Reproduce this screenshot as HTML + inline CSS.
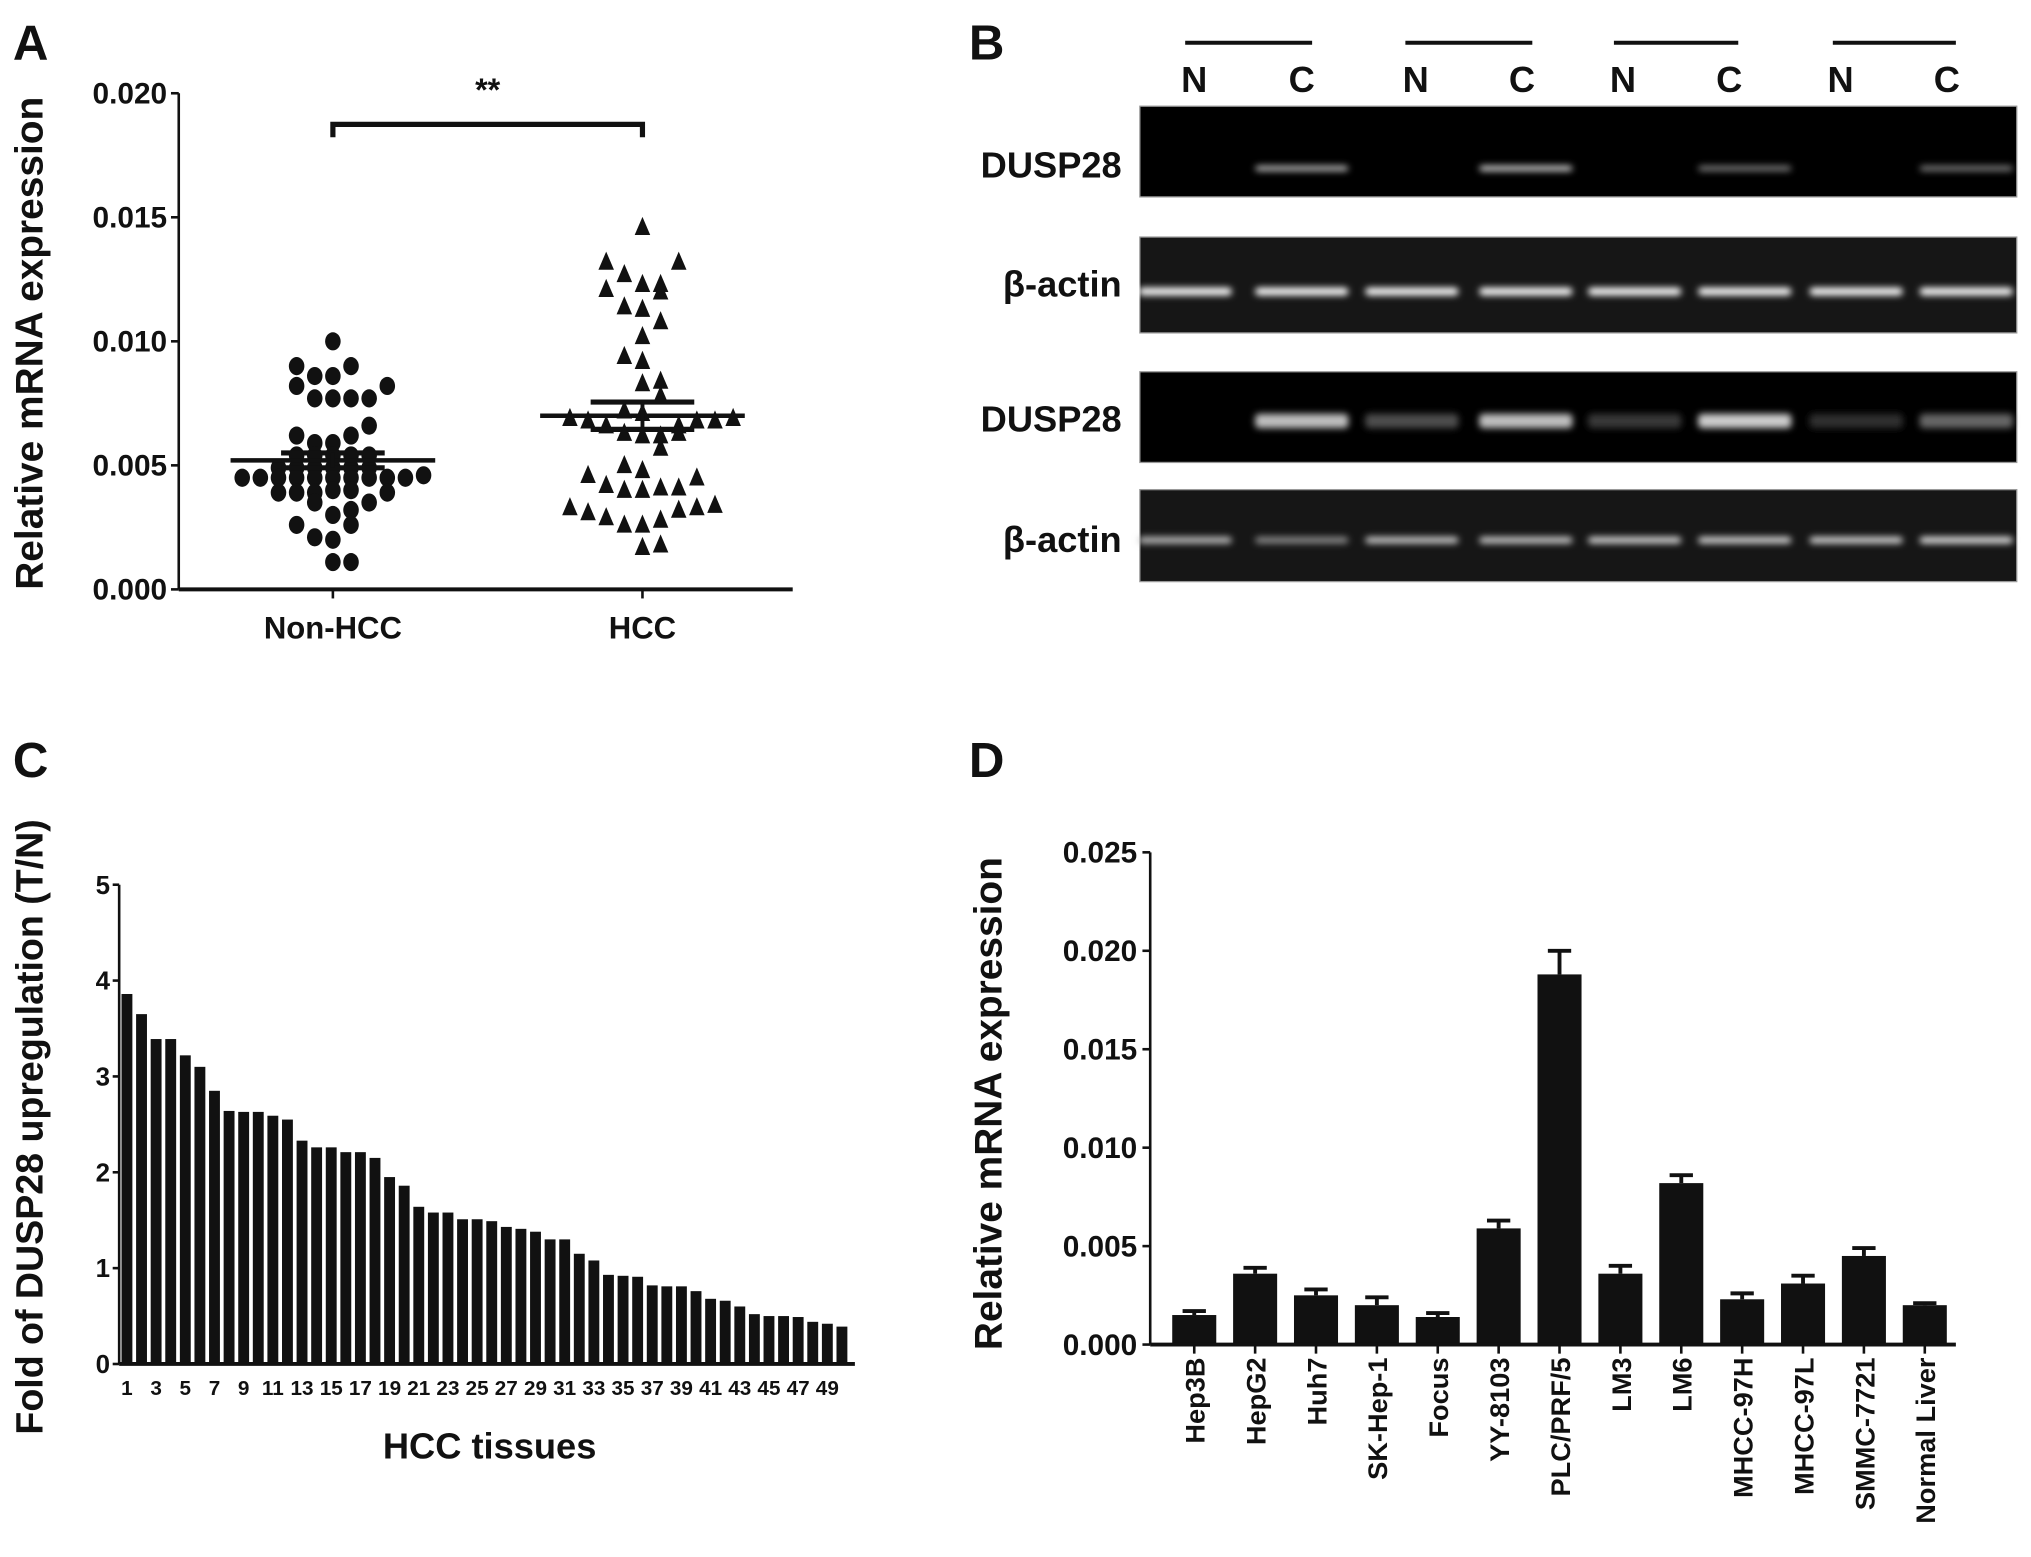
<!DOCTYPE html>
<html><head><meta charset="utf-8"><style>
html,body{margin:0;padding:0;background:#fff}
svg{display:block}
text{font-family:"Liberation Sans",Arial,sans-serif;font-weight:bold;fill:#111}
</style></head><body>
<svg id="fig" xmlns="http://www.w3.org/2000/svg" width="2031" height="1557" viewBox="0 0 1568 1202" preserveAspectRatio="none">
<defs>
<filter id="blur" x="-20%" y="-200%" width="140%" height="500%"><feGaussianBlur stdDeviation="2.6"/></filter>
</defs>
<g id="pa"></g>
<g id="pb"></g>
<g id="pc"></g>
<g id="pd"></g>
</svg>
<script>
// ---- Panel A data ----
const aGroups = ["Non-HCC","HCC"];
const aYTicks = [0,0.005,0.010,0.015,0.020];
const aYTickLabels = ["0.000","0.005","0.010","0.015","0.020"];
const nonHccVals = [0.0100,0.0090,0.0090,0.0086,0.0086,0.0082,0.0082,0.0077,0.0077,0.0077,0.0077,0.0066,0.0062,0.0062,0.0059,0.0059,0.0054,0.0054,0.0054,0.0054,0.0054,0.0049,0.0049,0.0049,0.0049,0.0049,0.0049,0.0045,0.0045,0.0045,0.0045,0.0045,0.0045,0.0045,0.0045,0.0045,0.0045,0.0046,0.0039,0.0039,0.0039,0.0040,0.0040,0.0039,0.0035,0.0035,0.0032,0.0030,0.0026,0.0026,0.0021,0.0020,0.0011,0.0011];
const nonHccCols = [0,-2,1,-1,0,-2,3,-1,0,1,2,2,-2,1,-1,0,-2,-1,0,1,2,-3,-2,-1,0,1,2,-5,-4,-3,-2,-1,0,1,2,3,4,5,-3,-2,-1,0,1,3,-1,2,1,0,-2,1,-1,0,0,1];
const nonHccMean = 0.0052, nonHccSem = 0.0003;
const hccVals = [0.0146,0.0132,0.0132,0.0127,0.0121,0.0123,0.0123,0.0120,0.0114,0.0113,0.0108,0.0102,0.0094,0.0092,0.0083,0.0084,0.0078,0.0072,0.0071,0.0069,0.0068,0.0068,0.0069,0.0068,0.0066,0.0066,0.0063,0.0062,0.0062,0.0063,0.0057,0.0050,0.0048,0.0046,0.0045,0.0042,0.0040,0.0040,0.0041,0.0041,0.0033,0.0031,0.0032,0.0033,0.0034,0.0029,0.0026,0.0026,0.0028,0.0017,0.0018];
const hccCols = [0,-2,2,-1,-2,0,1,1,-1,0,1,0,-1,0,0,1,1,-1,0,-4,-3,4,5,3,-2,2,-1,0,1,2,1,-1,0,-3,3,-2,-1,0,1,2,-4,-3,2,3,4,-2,-1,0,1,0,1];
const hccMean = 0.0070, hccSem = 0.00055;

// ---- Panel C data ----
const cYTicks = [0,1,2,3,4,5];
const cValues = [3.86,3.65,3.39,3.39,3.22,3.10,2.85,2.64,2.63,2.63,2.59,2.55,2.33,2.26,2.26,2.21,2.21,2.15,1.95,1.86,1.64,1.58,1.58,1.51,1.51,1.49,1.43,1.41,1.38,1.30,1.30,1.15,1.08,0.93,0.92,0.91,0.82,0.81,0.81,0.76,0.68,0.66,0.60,0.52,0.50,0.50,0.49,0.44,0.42,0.39];
const cTickLabels = ["1","3","5","7","9","11","13","15","17","19","21","23","25","27","29","31","33","35","37","39","41","43","45","47","49"];

// ---- Panel D data ----
const dCategories = ["Hep3B","HepG2","Huh7","SK-Hep-1","Focus","YY-8103","PLC/PRF/5","LM3","LM6","MHCC-97H","MHCC-97L","SMMC-7721","Normal Liver"];
const dValues = [0.0015,0.0036,0.0025,0.0020,0.0014,0.0059,0.0188,0.0036,0.0082,0.0023,0.0031,0.0045,0.0020];
const dErrors = [0.0002,0.0003,0.0003,0.0004,0.0002,0.0004,0.0012,0.0004,0.0004,0.0003,0.0004,0.0004,0.0001];
const dYTicks = [0,0.005,0.010,0.015,0.020,0.025];
const dYTickLabels = ["0.000","0.005","0.010","0.015","0.020","0.025"];

// ---- Panel B data (band intensities 0..1) ----
const bLanes = ["N","C","N","C","N","C","N","C"];
const bRow1 = [0,0.75,0,0.85,0,0.5,0,0.5];
const bRow2 = [1,1,1,1,1,1,1,1];
const bRow3 = [0,0.75,0.3,0.75,0.22,0.8,0.18,0.4];
const bRow4 = [0.75,0.55,0.8,0.8,0.85,0.85,0.85,0.9];

const NS="http://www.w3.org/2000/svg";
function mk(parent,tag,attrs,txt){const e=document.createElementNS(NS,tag);for(const k in attrs)e.setAttribute(k,attrs[k]);if(txt!==undefined)e.textContent=txt;parent.appendChild(e);return e;}

// ===== Panel A =====
(function(){
const g=document.getElementById('pa');
const x0=138,x1=612,yTop=72,yBot=455,vMax=0.020;
const Y=v=>yBot-(v/vMax)*(yBot-yTop);
const gx=[257,496], colW=14;
let e;
e=mk(g,'text',{x:10,y:46,'font-size':38}, 'A');


e=mk(g,'line',{x1:x0,y1:yTop,x2:x0,y2:yBot,stroke:'#111','stroke-width':2});


e=mk(g,'line',{x1:x0,y1:yBot,x2:x1,y2:yBot,stroke:'#111','stroke-width':3});


aYTicks.forEach((t,i)=>{
 mk(g,'line',{x1:x0-6,y1:Y(t),x2:x0,y2:Y(t),stroke:'#111','stroke-width':2});
 e=mk(g,'text',{x:x0-9,y:Y(t)+8,'font-size':23,'text-anchor':'end'},aYTickLabels[i]);
 
 
});
aGroups.forEach((n,i)=>{
 mk(g,'line',{x1:gx[i],y1:yBot,x2:gx[i],y2:yBot+7,stroke:'#111','stroke-width':2});
 e=mk(g,'text',{x:gx[i],y:yBot+38,'font-size':24,'text-anchor':'middle'},n);
 
 
});
e=mk(g,'text',{x:0,y:0,'font-size':30,'text-anchor':'middle',transform:'translate(33,265) rotate(-90)'},'Relative mRNA expression');


nonHccVals.forEach((v,i)=>{
 e=mk(g,'ellipse',{cx:gx[0]+nonHccCols[i]*colW,cy:Y(v),rx:6,ry:7,fill:'#111'});
 
 
});
hccVals.forEach((v,i)=>{
 const cx=gx[1]+hccCols[i]*colW, cy=Y(v);
 e=mk(g,'polygon',{points:`${cx},${cy-8} ${cx-6},${cy+6} ${cx+6},${cy+6}`,fill:'#111'});
 
 
});
function meanLines(cx,m,s,name){
 let l=mk(g,'line',{x1:cx-79,y1:Y(m),x2:cx+79,y2:Y(m),stroke:'#111','stroke-width':3.5});
 
 
 [m+s,m-s].forEach(v=>{
  l=mk(g,'line',{x1:cx-40,y1:Y(v),x2:cx+40,y2:Y(v),stroke:'#111','stroke-width':4});
  
  
 });
 mk(g,'line',{x1:cx,y1:Y(m+s),x2:cx,y2:Y(m-s),stroke:'#111','stroke-width':3});
}
meanLines(gx[0],nonHccMean,nonHccSem,'non-hcc');
meanLines(gx[1],hccMean,hccSem,'hcc');
e=mk(g,'path',{d:`M${gx[0]},106 V96 H${gx[1]} V106`,fill:'none',stroke:'#111','stroke-width':4});


e=mk(g,'text',{x:(gx[0]+gx[1])/2,y:78,'font-size':25,'text-anchor':'middle'},'**');


})();

// ===== Panel B =====
(function(){
const g=document.getElementById('pb');
let e;
e=mk(g,'text',{x:748,y:46,'font-size':38},'B');


const laneX=[922,1005,1093,1175,1253,1335,1421,1503];
[[915,1013],[1085,1183],[1246,1342],[1415,1510]].forEach(p=>{
 e=mk(g,'line',{x1:p[0],y1:33,x2:p[1],y2:33,stroke:'#111','stroke-width':3});
 
 
});
bLanes.forEach((l,i)=>{
 e=mk(g,'text',{x:laneX[i],y:71,'font-size':28,'text-anchor':'middle'},l);
 
 
});
const bandX=[915,1005,1090,1178,1262,1347,1433,1518];
const rows=[{y:82,h:70,by:130,lab:'DUSP28',ly:137,d:bRow1,bh:4,bg:'#000'},
 {y:183,h:74,by:225,lab:'β-actin',ly:229,d:bRow2,bh:6,bg:'#161616'},
 {y:287,h:70,by:325,lab:'DUSP28',ly:333,d:bRow3,bh:11,bg:'#000'},
 {y:378,h:71,by:417,lab:'β-actin',ly:426,d:bRow4,bh:5,bg:'#161616'}];
rows.forEach((r,ri)=>{
 e=mk(g,'rect',{x:880,y:r.y,width:677,height:r.h,fill:r.bg,stroke:'#999','stroke-width':1});
 
 
 e=mk(g,'text',{x:866,y:r.ly,'font-size':28,'text-anchor':'end'},r.lab);
 
 
 r.d.forEach((v,i)=>{
  if(v<=0)return;
  const c=Math.round(255*v);
  e=mk(g,'rect',{x:bandX[i]-36,y:r.by-r.bh/2,width:72,height:r.bh,rx:3,fill:`rgb(${c},${c},${c})`,filter:'url(#blur)'});
  
  
 });
});
})();

// ===== Panel C =====
(function(){
const g=document.getElementById('pc');
const x0=115,x1=660,yTop=683,yBot=1053,vMax=5;
const Y=v=>yBot-(v/vMax)*(yBot-yTop);
const n=cValues.length, step=(650-98)/(n-1);
const X=i=>98+i*step;
let e;
e=mk(g,'text',{x:10,y:600,'font-size':38},'C');


cValues.forEach((v,i)=>{
 e=mk(g,'rect',{x:X(i)-4.2,y:Y(v),width:8.4,height:yBot-Y(v),fill:'#111'});
 
 
});
e=mk(g,'line',{x1:x0-23,y1:yTop,x2:x0-23,y2:yBot,stroke:'#111','stroke-width':2});


e=mk(g,'line',{x1:x0-23,y1:yBot,x2:x1,y2:yBot,stroke:'#111','stroke-width':3});


cYTicks.forEach(t=>{
 mk(g,'line',{x1:x0-28,y1:Y(t),x2:x0-23,y2:Y(t),stroke:'#111','stroke-width':2});
 e=mk(g,'text',{x:x0-30,y:Y(t)+7,'font-size':20,'text-anchor':'end'},String(t));
 
 
});
cTickLabels.forEach(l=>{
 const i=parseInt(l)-1;
 e=mk(g,'text',{x:X(i),y:1077,'font-size':16,'text-anchor':'middle'},l);
 
 
});
e=mk(g,'text',{x:378,y:1126,'font-size':28,'text-anchor':'middle'},'HCC tissues');


e=mk(g,'text',{x:0,y:0,'font-size':29,'text-anchor':'middle',transform:'translate(33,870) rotate(-90)'},'Fold of DUSP28 upregulation (T/N)');


})();

// ===== Panel D =====
(function(){
const g=document.getElementById('pd');
const x0=888,x1=1510,yTop=658,yBot=1038,vMax=0.025;
const Y=v=>yBot-(v/vMax)*(yBot-yTop);
const X=i=>922+i*47;
let e;
e=mk(g,'text',{x:748,y:600,'font-size':38},'D');


dValues.forEach((v,i)=>{
 const t=Y(v+dErrors[i]);
 e=mk(g,'line',{x1:X(i),y1:t,x2:X(i),y2:Y(v),stroke:'#111','stroke-width':3});
 
 
 e=mk(g,'line',{x1:X(i)-9,y1:t,x2:X(i)+9,y2:t,stroke:'#111','stroke-width':3});
 
 
 e=mk(g,'rect',{x:X(i)-17,y:Y(v),width:34,height:yBot-Y(v),fill:'#111'});
 
 
});
e=mk(g,'line',{x1:x0,y1:yTop,x2:x0,y2:yBot,stroke:'#111','stroke-width':2});


e=mk(g,'line',{x1:x0,y1:yBot,x2:x1,y2:yBot,stroke:'#111','stroke-width':3});


dYTicks.forEach((t,i)=>{
 mk(g,'line',{x1:x0-6,y1:Y(t),x2:x0,y2:Y(t),stroke:'#111','stroke-width':2});
 e=mk(g,'text',{x:x0-10,y:Y(t)+8,'font-size':23,'text-anchor':'end'},dYTickLabels[i]);
 
 
});
dCategories.forEach((c,i)=>{
 mk(g,'line',{x1:X(i),y1:yBot,x2:X(i),y2:yBot+7,stroke:'#111','stroke-width':2});
 e=mk(g,'text',{x:0,y:0,'font-size':21,'text-anchor':'end',transform:`translate(${X(i)+8},1048) rotate(-90)`},c);
 
 
});
e=mk(g,'text',{x:0,y:0,'font-size':30,'text-anchor':'middle',transform:'translate(773,852) rotate(-90)'},'Relative mRNA expression');


})();
</script>
</body></html>
